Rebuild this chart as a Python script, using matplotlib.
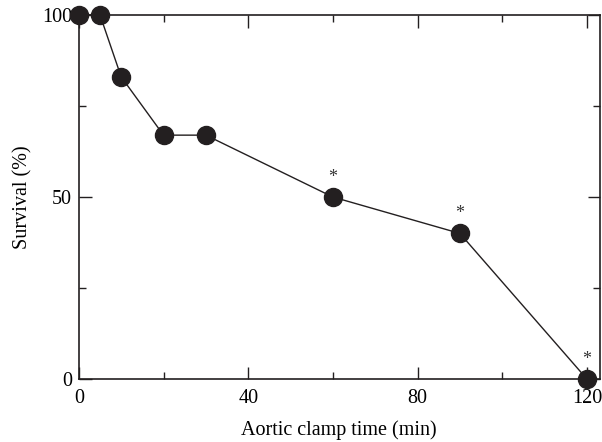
import matplotlib
matplotlib.use("Agg")
import matplotlib.pyplot as plt
from matplotlib.ticker import MultipleLocator

clamp_time = [0, 5, 10, 20, 30, 60, 90, 120]
survival = [100, 100, 83, 67, 67, 50, 40, 0]
starred = [60, 90, 120]

plt.rcParams['font.family'] = ['Liberation Serif', 'DejaVu Serif']

fig = plt.figure(figsize=(6.02, 4.42), dpi=100)
ax = fig.add_axes([0.131, 0.1425, 0.865, 0.8235])

ax.plot(clamp_time, survival, color='#231f20', lw=1.0, marker='o',
        markersize=13, markerfacecolor='#231f20', markeredgecolor='#231f20',
        clip_on=False, zorder=3)

for t in starred:
    s = survival[clamp_time.index(t)]
    ax.annotate('*', (t, s), xytext=(0, 8), textcoords='offset points',
                ha='center', va='bottom', fontsize=13, color='#333333')

ax.set_xlim(0, 123)
ax.set_ylim(0, 100)
ax.xaxis.set_major_locator(MultipleLocator(40))
ax.xaxis.set_minor_locator(MultipleLocator(20))
ax.yaxis.set_major_locator(MultipleLocator(50))
ax.yaxis.set_minor_locator(MultipleLocator(25))
ax.tick_params(which='both', direction='in', top=True, right=True,
               labelsize=14.5, width=1, color='#231f20')
ax.tick_params(axis='x', pad=7)
ax.tick_params(axis='y', pad=5)
ax.tick_params(which='major', length=9)
ax.tick_params(which='minor', length=5)
for sp in ax.spines.values():
    sp.set_linewidth(1.2)
    sp.set_color('#231f20')

ax.set_xlabel('Aortic clamp time (min)', fontsize=14.5, labelpad=9)
ax.set_ylabel('Survival (%)', fontsize=14.5, labelpad=7)

fig.savefig('out.png', dpi=100)
